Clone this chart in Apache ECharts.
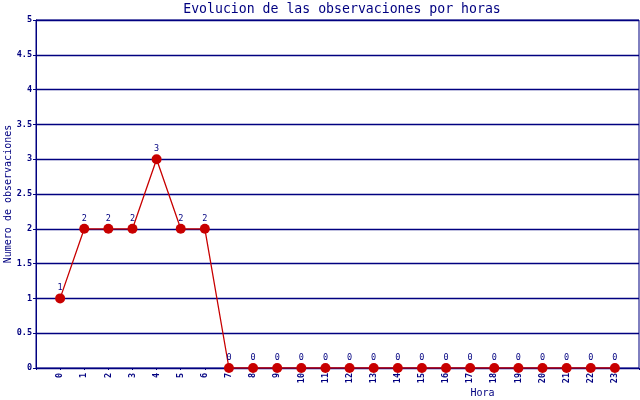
<!DOCTYPE html>
<html>
<head>
<meta charset="utf-8">
<script src="https://cdn.jsdelivr.net/npm/echarts@6/dist/echarts.min.js"></script>
<style>html,body{margin:0;padding:0;background:#fff}#c{width:640px;height:400px}</style>
</head>
<body>
<div id="c"></div>
<script>
const hours = [0,1,2,3,4,5,6,7,8,9,10,11,12,13,14,15,16,17,18,19,20,21,22,23];
const observations = [1,2,2,2,3,2,2,0,0,0,0,0,0,0,0,0,0,0,0,0,0,0,0,0];
const titleText = 'Evolucion de las observaciones por horas';
const xName = 'Hora';
const yName = 'Numero de observaciones';

const NAVY = '#000080';
const RED = '#c80000';
const FONT = 'DejaVu Sans Mono';

const chart = echarts.init(document.getElementById('c'), null, {renderer: 'canvas'});
chart.setOption({
  animation: false,
  backgroundColor: '#fff',
  title: {
    text: titleText, left: 337, top: -2, textAlign: 'center',
    textStyle: {color: NAVY, fontFamily: FONT, fontSize: 13.2, fontWeight: 'normal'}
  },
  grid: {left: 36, right: 1, top: 20, bottom: 32, show: true, borderColor: NAVY, borderWidth: 1,
         containLabel: false, outerBoundsMode: 'none'},
  xAxis: {
    type: 'value', min: -1, max: 24, interval: 1,
    name: xName, nameLocation: 'middle', nameGap: 20, nameMoveOverlap: false,
    nameTextStyle: {color: NAVY, fontFamily: FONT, fontSize: 10, padding: [0,0,0,290]},
    axisLine: {show: true, onZero: false, lineStyle: {color: NAVY, width: 1}},
    axisTick: {show: true, length: 2, lineStyle: {color: NAVY}},
    splitLine: {show: false},
    axisLabel: {
      rotate: 90, color: NAVY, fontFamily: FONT, fontSize: 8.5, fontWeight: 'bold', margin: 5,
      formatter: v => (v >= 0 && v <= 23 ? String(v) : '')
    }
  },
  yAxis: {
    type: 'value', min: 0, max: 5, interval: 0.5,
    name: yName, nameLocation: 'middle', nameGap: 23, nameMoveOverlap: false,
    nameTextStyle: {color: NAVY, fontFamily: FONT, fontSize: 10},
    axisLine: {show: true, onZero: false, lineStyle: {color: NAVY, width: 1}},
    axisTick: {show: true, length: 3, lineStyle: {color: NAVY}},
    splitLine: {show: true, lineStyle: {color: NAVY, width: 1.3}},
    axisLabel: {color: NAVY, fontFamily: FONT, fontSize: 8.5, fontWeight: 'bold', margin: 4}
  },
  series: [{
    type: 'line',
    data: hours.map((h, i) => [h, observations[i]]),
    symbol: 'circle', symbolSize: 10,
    itemStyle: {color: RED},
    lineStyle: {color: RED, width: 1.3},
    label: {show: true, position: 'top', distance: 1, color: NAVY, fontFamily: FONT, fontSize: 8.5}
  }]
});
</script>
</body>
</html>
